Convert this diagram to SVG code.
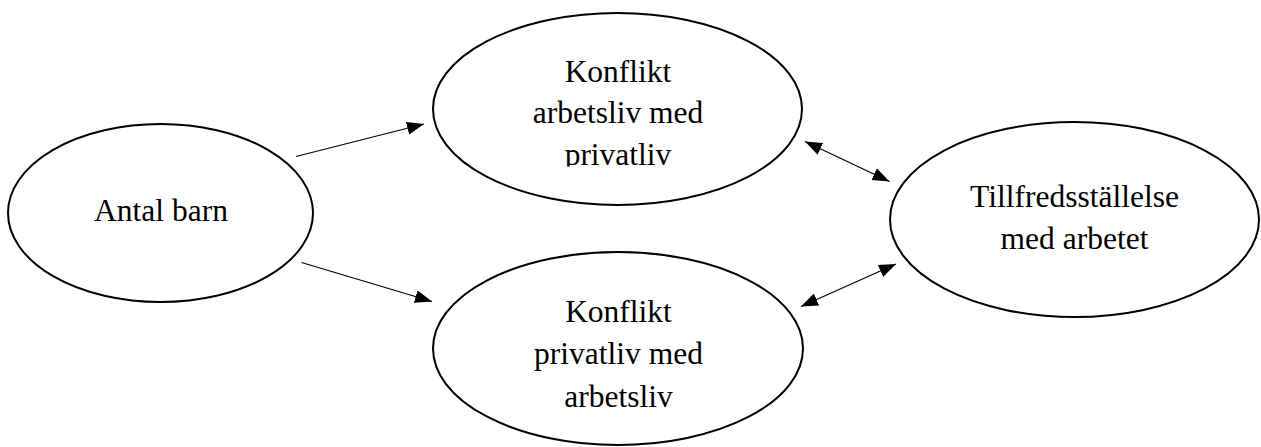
<svg xmlns="http://www.w3.org/2000/svg" width="1261" height="447" viewBox="0 0 1261 447">
<style>
.node ellipse{fill:#fff;stroke:#000;stroke-width:2}
.node text{font-family:"Liberation Serif","Times New Roman",serif;font-size:31.5px;fill:#000;text-anchor:middle}
.edges line{stroke:#000;stroke-width:1.2}
</style>
<defs>
<marker id="ah" markerUnits="userSpaceOnUse" markerWidth="18" markerHeight="14" refX="17" refY="6.5" orient="auto-start-reverse" viewBox="0 0 18 14">
<path d="M0,0 L17,6.5 L0,13 Z" fill="#000"/>
</marker>
<clipPath id="clipTop"><rect x="430" y="40" width="380" height="126.5"/></clipPath>
</defs>
<rect width="1261" height="447" fill="#fff"/>
<g id="node-antal-barn" class="node">
<ellipse cx="160.5" cy="213" rx="152.5" ry="89"/>
<text x="161" y="221">Antal barn</text>
</g>
<g id="node-konflikt-arbetsliv" class="node">
<ellipse cx="617.5" cy="109" rx="184.5" ry="96"/>
<text clip-path="url(#clipTop)"><tspan x="618" y="81.5">Konflikt</tspan><tspan x="618" y="123">arbetsliv med</tspan><tspan x="618" y="165">privatliv</tspan></text>
</g>
<g id="node-konflikt-privatliv" class="node">
<ellipse cx="618" cy="348.5" rx="185" ry="96.5"/>
<text><tspan x="618.5" y="321.5">Konflikt</tspan><tspan x="618.5" y="364">privatliv med</tspan><tspan x="618.5" y="406.5">arbetsliv</tspan></text>
</g>
<g id="node-tillfredsstallelse" class="node">
<ellipse cx="1074.5" cy="219.5" rx="184.5" ry="97.5"/>
<text><tspan x="1074.5" y="207">Tillfredsställelse</tspan><tspan x="1074.5" y="249">med arbetet</tspan></text>
</g>
<g id="connectors" class="edges">
<line x1="296" y1="156.5" x2="424" y2="124" marker-end="url(#ah)"/>
<line x1="301.5" y1="262.5" x2="432" y2="301.5" marker-end="url(#ah)"/>
<line x1="805" y1="141.5" x2="889.5" y2="181.5" marker-start="url(#ah)" marker-end="url(#ah)"/>
<line x1="801" y1="306.5" x2="896" y2="264" marker-start="url(#ah)" marker-end="url(#ah)"/>
</g>
</svg>
